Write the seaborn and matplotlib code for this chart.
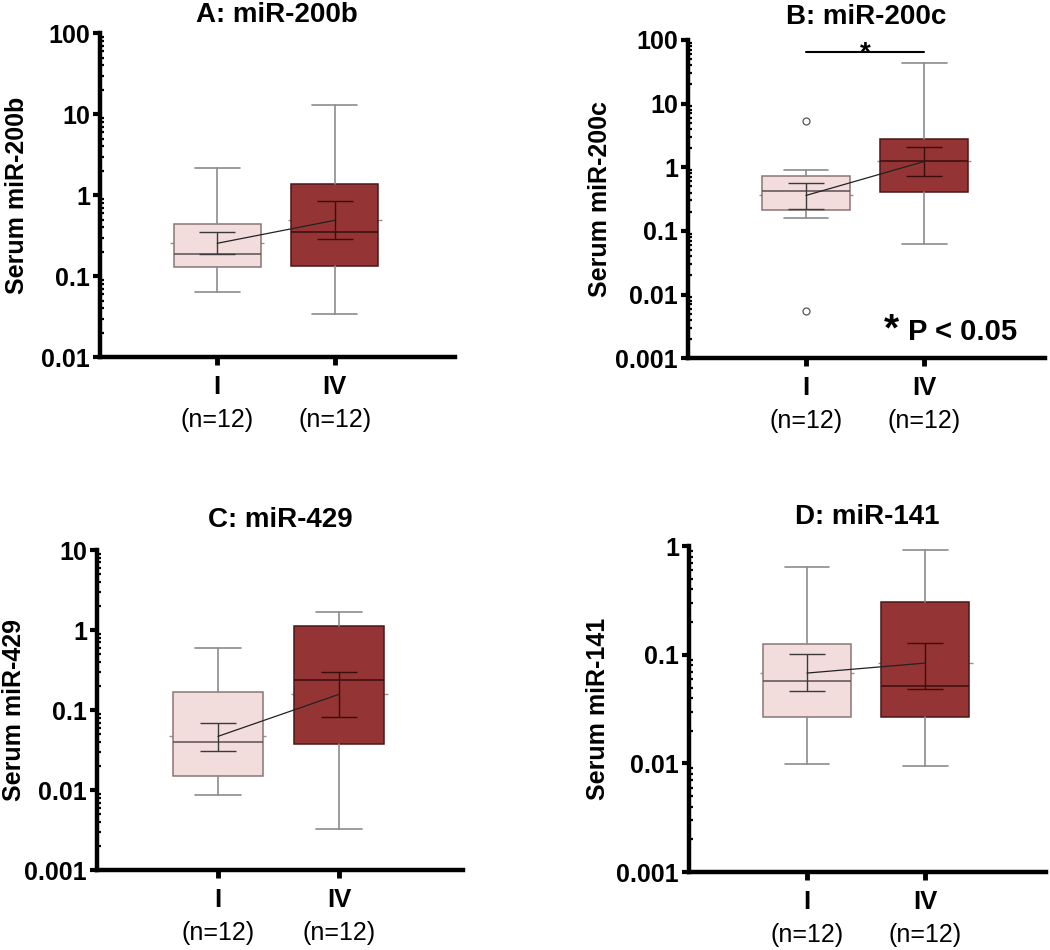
import matplotlib
matplotlib.use("Agg")
import matplotlib.pyplot as plt
import matplotlib.ticker as mticker
import numpy as np
import pandas as pd
import seaborn as sns

# ---------------- data ----------------
groups = ["I", "IV"]
n_labels = ["(n=12)", "(n=12)"]
box_colors = ["#f2dcdc", "#943434"]

titles = ["A: miR-200b", "B: miR-200c", "C: miR-429", "D: miR-141"]
ylabels = ["Serum miR-200b", "Serum miR-200c", "Serum miR-429", "Serum miR-141"]
ylims = [(0.01, 100), (0.001, 100), (0.001, 10), (0.001, 1)]

# per panel: [group I, group IV]
whisker_low = [[0.063, 0.034], [0.162, 0.062], [0.0087, 0.00325], [0.0098, 0.0095]]
q1 = [[0.129, 0.133], [0.215, 0.41], [0.0152, 0.0375], [0.027, 0.027]]
median = [[0.19, 0.35], [0.43, 1.23], [0.040, 0.235], [0.058, 0.052]]
q3 = [[0.44, 1.37], [0.74, 2.8], [0.169, 1.11], [0.125, 0.304]]
whisker_high = [[2.15, 12.9], [0.91, 43.0], [0.59, 1.69], [0.645, 0.92]]
mean = [[0.255, 0.49], [0.36, 1.23], [0.047, 0.158], [0.068, 0.084]]
err_low = [[0.19, 0.29], [0.22, 0.74], [0.031, 0.083], [0.046, 0.049]]
err_high = [[0.35, 0.84], [0.57, 2.1], [0.070, 0.30], [0.102, 0.128]]
outliers = [[[], []], [[5.4, 0.0055], []], [[], []], [[], []]]

# significance annotation (panel B)
sig_y = 65
sig_star_y = 47
sig_star = "*"
p_text = "P < 0.05"

# ---------------- style ----------------
sns.set_theme(style="ticks")
plt.rcParams["font.family"] = ["Liberation Sans", "DejaVu Sans"]
for k in ["text.color", "axes.labelcolor", "xtick.color", "ytick.color", "axes.edgecolor"]:
    plt.rcParams[k] = "black"

fig = plt.figure(figsize=(10.5, 9.5), dpi=100)
positions = [
    [0.095, 0.624, 0.338, 0.341],
    [0.655, 0.623, 0.340, 0.335],
    [0.092, 0.084, 0.349, 0.337],
    [0.656, 0.082, 0.340, 0.343],
]
title_y = [1.057, 1.072, 1.094, 1.089]
ylabel_x = [-0.234, -0.246, -0.226, -0.255]

edge_colors = ["#8a7575", "#4a1616"]
median_colors = ["#5a5050", "#3a0e0e"]
err_colors = ["#3a3a3a", "#3a0c0c"]

for p in range(4):
    ax = fig.add_axes(positions[p])
    stats = []
    for g in range(2):
        stats.append(dict(
            med=median[p][g], q1=q1[p][g], q3=q3[p][g],
            whislo=whisker_low[p][g], whishi=whisker_high[p][g],
            fliers=outliers[p][g], mean=mean[p][g], label=groups[g]))
    bp = ax.bxp(stats, positions=[0, 1], widths=0.74, patch_artist=True,
                showfliers=True, capwidths=0.38,
                whiskerprops=dict(color="#8c8c8c", lw=1.2),
                capprops=dict(color="#8c8c8c", lw=1.2),
                flierprops=dict(marker="o", markersize=5, markerfacecolor="white",
                                markeredgecolor="#555555", markeredgewidth=0.9))
    for g, patch in enumerate(bp["boxes"]):
        patch.set_facecolor(box_colors[g])
        patch.set_edgecolor(edge_colors[g])
        patch.set_linewidth(1.1)
        bp["medians"][g].set_color(median_colors[g])
        bp["medians"][g].set_linewidth(1.1)

    # mean ticks (behind boxes, only the tips show)
    for g in range(2):
        ax.hlines(mean[p][g], g - 0.40, g + 0.40, color="#9a9090", lw=1.0, zorder=1)
    # error bars around means
    for g in range(2):
        ax.errorbar(g, mean[p][g],
                    yerr=[[mean[p][g] - err_low[p][g]], [err_high[p][g] - mean[p][g]]],
                    fmt="none", ecolor=err_colors[g], elinewidth=1.0,
                    capsize=13, capthick=1.0, zorder=4)
    # line connecting means
    dfm = pd.DataFrame({"x": [0, 1], "y": mean[p]})
    sns.lineplot(data=dfm, x="x", y="y", ax=ax, color="#222222", lw=0.9,
                 zorder=5, legend=False)

    ax.set_yscale("log")
    ax.set_ylim(*ylims[p])
    ax.set_xlim(-1, 2.02)
    ax.yaxis.set_major_locator(mticker.LogLocator(base=10, numticks=10))
    ax.yaxis.set_major_formatter(mticker.FuncFormatter(lambda v, _: f"{v:g}"))
    ax.yaxis.set_minor_locator(mticker.LogLocator(base=10, subs=np.arange(2, 10), numticks=20))
    ax.yaxis.set_minor_formatter(mticker.NullFormatter())

    ax.set_xticks([0, 1])
    ax.set_xticklabels(groups, fontsize=18.5, fontweight="bold")
    for g in range(2):
        ax.annotate(n_labels[g], xy=(g, 0), xycoords=("data", "axes fraction"),
                    xytext=(0, -45), textcoords="offset points",
                    ha="center", va="center", fontsize=18)

    sns.despine(ax=ax)
    for s in ["left", "bottom"]:
        ax.spines[s].set_linewidth(3.2)
        ax.spines[s].set_color("black")
    ax.tick_params(axis="y", which="major", direction="out", length=5, width=3,
                   labelsize=18, pad=2)
    ax.tick_params(axis="y", which="minor", direction="in", length=3, width=1.6)
    ax.tick_params(axis="x", which="major", direction="out", length=6, width=3.5, pad=7)
    for lab in ax.get_yticklabels():
        lab.set_fontweight("bold")
    ax.set_xlabel("")
    ax.set_ylabel(ylabels[p], fontsize=18, fontweight="bold")
    ax.yaxis.label.set_va("center")
    ax.yaxis.set_label_coords(ylabel_x[p], 0.5)
    ax.text(0.5, title_y[p], titles[p], transform=ax.transAxes, ha="center",
            va="center", fontsize=20, fontweight="bold")
    ax.set_facecolor("white")

    if p == 1:
        ax.plot([0, 1], [sig_y, sig_y], color="black", lw=1.5, clip_on=False)
        ax.text(0.5, sig_star_y, sig_star, ha="center", va="baseline",
                fontsize=20, fontweight="bold", clip_on=False)
        ax.text(0.72, 0.0019, sig_star, ha="center", va="baseline",
                fontsize=28, fontweight="bold")
        ax.text(0.86, 0.0026, p_text, ha="left", va="center",
                fontsize=21, fontweight="bold")

fig.savefig("out.png", dpi=100, facecolor="white")
